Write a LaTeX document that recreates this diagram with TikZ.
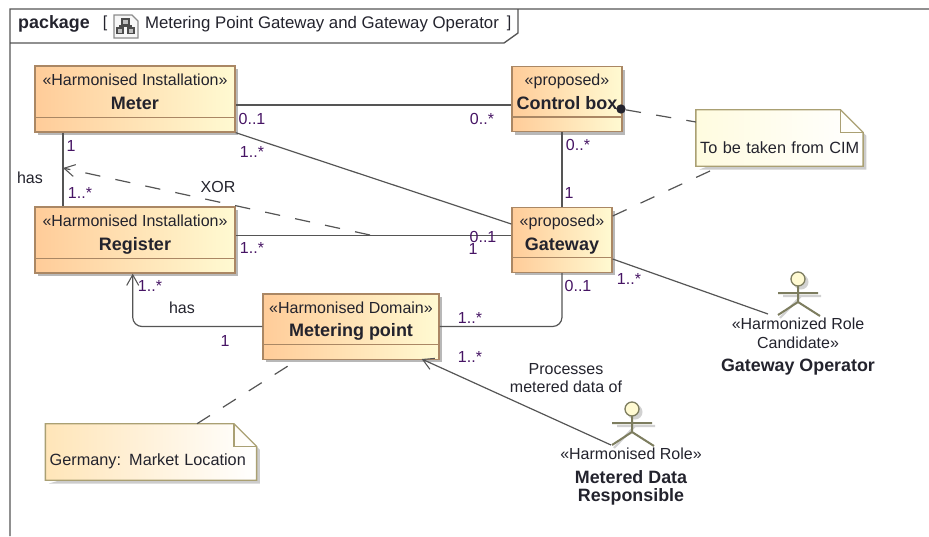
\documentclass[tikz,border=0pt]{standalone}
\usepackage{fontspec}
\setmainfont{Liberation Sans}
\usetikzlibrary{arrows.meta,backgrounds}
\definecolor{boxline}{RGB}{170,135,100}
\definecolor{boxleft}{RGB}{255,204,153}
\definecolor{boxright}{RGB}{255,250,210}
\definecolor{noteline}{RGB}{170,160,115}
\definecolor{actorline}{RGB}{125,125,95}
\definecolor{linegray}{RGB}{85,85,85}
\definecolor{multcolor}{RGB}{70,20,100}
\definecolor{textdark}{RGB}{35,35,45}
\tikzset{
	umlbox/.style={rectangle,draw=boxline,line width=1pt,left color=boxleft,right color=boxright,
		text=textdark,align=center,inner sep=0pt,font=\fontsize{12}{17.7}\selectfont,
		path picture={\draw[boxline,line width=1pt] ([yshift=11pt]path picture bounding box.south west) -- ([yshift=11pt]path picture bounding box.south east);}},
	assoc/.style={draw=linegray,line width=0.9pt},
	dep/.style={draw=linegray,line width=0.9pt,dash pattern=on 11.5pt off 11.5pt},
	opentip/.style={-{Straight Barb[length=8pt,width=9pt,line width=0.8pt]}},
	notetext/.style={rectangle,text=textdark,align=left,inner xsep=3pt,inner ysep=0pt,font=\fontsize{12.2}{13}\selectfont},
	notebody/.style={draw=noteline,line width=1pt},
	mult/.style={text=multcolor,inner sep=0pt,font=\fontsize{12}{14}\selectfont},
	lbl/.style={text=textdark,inner sep=0pt,align=center,font=\fontsize{12}{14}\selectfont},
	namelbl/.style={font=\fontsize{13.4}{14}\selectfont\bfseries},
	actorman/.pic={
		\fill[black!18] (3,3) circle (7.5);
		\draw[black!18,line width=1.6pt] (3,17) -- (-18,39) (23,17) -- (-15,17);
		\draw[actorline,line width=1.5pt] (-20,14) -- (20,14) (0,7) -- (0,23) (-20,36) -- (0,23) -- (22,37);
		\draw[actorline,line width=1pt,fill=boxright] (0,0) circle (7);
		\coordinate (-foot) at (-30,35);
		\coordinate (-hand) at (-21,36);
	}
}
\begin{document}
\begin{tikzpicture}[x=0.75pt,y=-0.75pt]
	\useasboundingbox (0,0) rectangle (929,536);
	% frame
	\draw[linegray,line width=1pt] (10,536) -- (10,9) -- (929,9) (518,9) -- (518,33) -- (504,43) -- (10,43);
	\node[lbl,namelbl] (pkgname) at (54,24) {package};
	\node[lbl] (openbr) at (105,23) {[};
	\node[lbl,font=\fontsize{12.6}{14}\selectfont] (title) at (322,24) {Metering Point Gateway and Gateway Operator};
	\node[lbl] (closebr) at (509,23) {]};
	% icon
	\draw[black!45,line width=0.8pt,fill=black!3] (114,15) -- (132,15) -- (138,21) -- (138,38) -- (114,38) -- cycle;
	\draw[black!70,line width=0.9pt,fill=black!25] (122,19) rectangle (129,24.5) (117,28) rectangle (123,33.5) (128,28) rectangle (134,33.5);
	\draw[black!70,line width=0.9pt] (125.5,24.5) -- (125.5,26) (120,28) -- (120,26) -- (131,26) -- (131,28);
	% shadows
	\fill[black!28] (38,69) rectangle (238,135);
	\fill[black!28] (38,210) rectangle (238,276);
	\fill[black!28] (515,70) rectangle (625,135);
	\fill[black!28] (515,211) rectangle (615,275);
	\fill[black!28] (266,297) rectangle (442,362);
	% classes
	\node[umlbox,minimum width=150pt,minimum height=49.5pt] (meter) at (135,99) {«Harmonised Installation»\\{\fontsize{13.5}{17.7}\selectfont\bfseries Meter}\\[-6.7pt]\mbox{}};
	\node[umlbox,minimum width=150pt,minimum height=49.5pt] (register) at (135,240) {«Harmonised Installation»\\{\fontsize{13.5}{17.7}\selectfont\bfseries Register}\\[-6.7pt]\mbox{}};
	\node[umlbox,minimum width=82.5pt,minimum height=49pt] (control) at (567,99) {«proposed»\\{\fontsize{13.5}{17.7}\selectfont\bfseries Control box}\\[-6.7pt]\mbox{}};
	\node[umlbox,minimum width=75pt,minimum height=48.5pt] (gateway) at (562,240) {«proposed»\\{\fontsize{13.5}{17.7}\selectfont\bfseries Gateway}\\[-6.7pt]\mbox{}};
	\node[umlbox,minimum width=132pt,minimum height=49pt] (metering) at (351,326.5) {«Harmonised Domain»\\{\fontsize{13.5}{17.7}\selectfont\bfseries Metering point}\\[-6.7pt]\mbox{}};
	% notes
	\node[notetext,text width=119pt,minimum height=42pt] (cim) at (779.5,138) {\mbox{}\\[10pt]\mbox{To be taken from CIM}};
	\node[notetext,text width=152pt,minimum height=42pt] (germany) at (151,452) {\mbox{}\\[10pt]\mbox{Germany: Market Location}};
	\begin{scope}[on background layer]
		\fill[black!20] ([xshift=2.5pt,yshift=-2.5pt]cim.south west) -- ([xshift=-14.5pt,yshift=-2.5pt]cim.north east) -- ([xshift=2.5pt,yshift=-19.5pt]cim.north east) -- ([xshift=2.5pt,yshift=-2.5pt]cim.south east) -- cycle;
		\fill[black!20] ([xshift=2.5pt,yshift=-2.5pt]germany.south west) -- ([xshift=-14.5pt,yshift=-2.5pt]germany.north east) -- ([xshift=2.5pt,yshift=-19.5pt]germany.north east) -- ([xshift=2.5pt,yshift=-2.5pt]germany.south east) -- cycle;
		\draw[notebody,left color=boxright!70!white,right color=white] (cim.south west) -- (cim.north west) -- ([xshift=-17pt]cim.north east) -- ([yshift=-17pt]cim.north east) -- (cim.south east) -- cycle;
		\draw[notebody,left color=boxleft!45!boxright,right color=white] (germany.south west) -- (germany.north west) -- ([xshift=-17pt]germany.north east) -- ([yshift=-17pt]germany.north east) -- (germany.south east) -- cycle;
	\end{scope}
	\draw[notebody] ([xshift=-17pt]cim.north east) -- ([xshift=-17pt,yshift=-17pt]cim.north east) -- ([yshift=-17pt]cim.north east);
	\draw[notebody] ([xshift=-17pt]germany.north east) -- ([xshift=-17pt,yshift=-17pt]germany.north east) -- ([yshift=-17pt]germany.north east);
	% actors
	\pic (operator) at (798,279) {actorman};
	\pic (metered) at (632,409) {actorman};
	\node[lbl] (operatorstereo) at (798,333) {«Harmonized Role\\Candidate»};
	\node[lbl,namelbl] (operatorname) at (798,367) {Gateway Operator};
	\node[lbl] (meteredstereo) at (631,454) {«Harmonised Role»};
	\node[lbl,namelbl] (meteredname) at (631,488) {Metered Data\\Responsible};
	% associations
	\draw[assoc] ([yshift=-4.5pt]meter.east) -- ([yshift=-4.5pt]control.west);
	\draw[assoc] (meter.south east) -- ([yshift=12pt]gateway.west);
	\draw[assoc] ([yshift=3.5pt]register.east) -- ([yshift=3.5pt]gateway.west);
	\draw[assoc] (meter.south -| 63,0) -- (register.north -| 63,0);
	\draw[assoc] (control.south -| gateway.north) -- (gateway.north);
	\draw[assoc,opentip,rounded corners=7pt] (metering.west) -- (132.7,326.5) -- (register.south -| 132.7,0);
	\draw[assoc,rounded corners=7pt] (metering.east) -- (562,326.5) -- (gateway.south);
	\draw[assoc] (gateway.south east |- 0,259) -- (operator-foot);
	\draw[assoc,opentip] (metered-hand) -- (421.7,359);
	% dependencies
	\coordinate (xorstart) at (370,235);
	\coordinate (xorend) at (63,168);
	\draw[dep,opentip] (xorstart) -- (xorend);
	\node[circle,fill=textdark,minimum size=7pt,inner sep=0pt] (dot) at (621,109) {};
	\draw[dep] (dot) -- (cim.west |- 0,122);
	\draw[dep] (gateway.east |- 0,216) -- (710,171);
	\draw[dep] (germany.north -| 197,0) -- (288,366);
	% labels
	\node[mult] (m1) at (252,119) {0..1};
	\node[mult] (m2) at (482,119) {0..*};
	\node[mult] (m3) at (252,152) {1..*};
	\node[mult] (m4) at (71,146) {1};
	\node[mult] (m5) at (80,193) {1..*};
	\node[mult] (m6) at (252,248) {1..*};
	\node[mult] (m7) at (483,237) {0..1};
	\node[mult] (m8) at (473,249) {1};
	\node[mult] (m9) at (578,145) {0..*};
	\node[mult] (m10) at (569,193) {1};
	\node[mult] (m11) at (578,286) {0..1};
	\node[mult] (m12) at (629,279) {1..*};
	\node[mult] (m13) at (150,286) {1..*};
	\node[mult] (m14) at (225,341) {1};
	\node[mult] (m15) at (470,318) {1..*};
	\node[mult] (m16) at (470,357) {1..*};
	\node[lbl] (has1) at (30,178) {has};
	\node[lbl] (xor) at (218,187) {XOR};
	\node[lbl] (has2) at (182,308) {has};
	\node[lbl] (processes) at (566,378) {Processes\\metered data of};
\end{tikzpicture}
\end{document}
